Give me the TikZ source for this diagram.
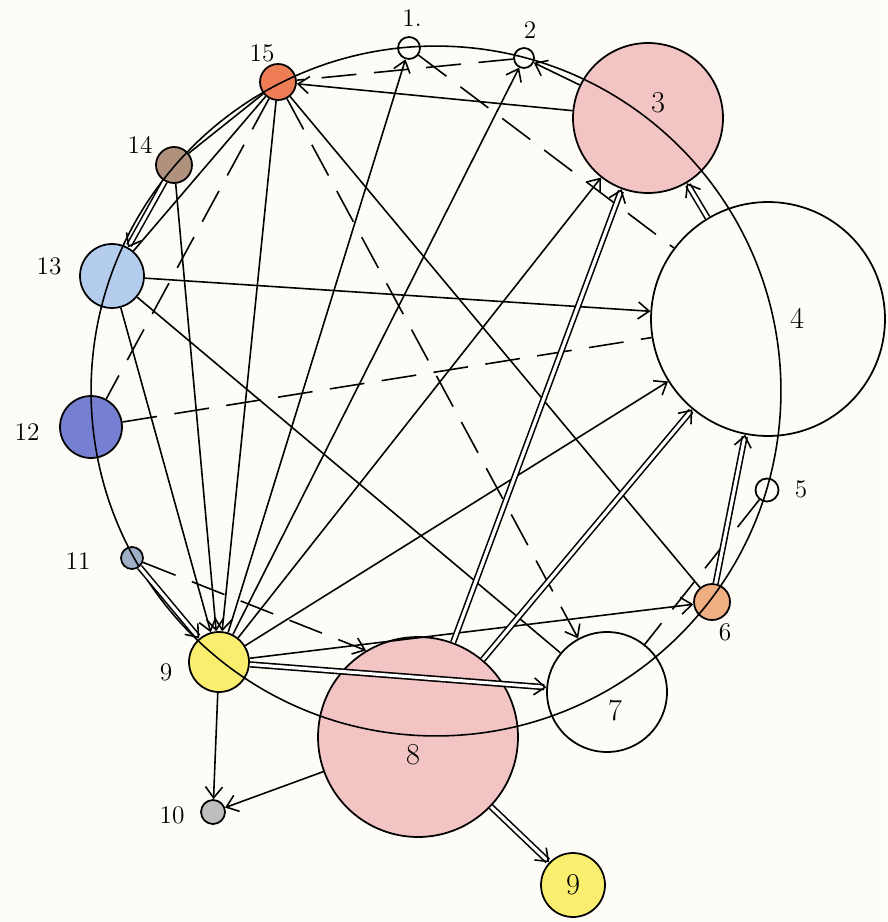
\documentclass[tikz,border=0pt]{standalone}
\usepackage{tikz}
\usetikzlibrary{arrows.meta}
\definecolor{paper}{RGB}{253,252,246}
\definecolor{pk}{RGB}{242,196,196}
\definecolor{yl}{RGB}{250,238,110}
\definecolor{org}{RGB}{240,175,130}
\definecolor{rd}{RGB}{238,125,85}
\definecolor{brn}{RGB}{175,145,125}
\definecolor{lb}{RGB}{180,205,238}
\definecolor{bl}{RGB}{118,128,210}
\definecolor{gb}{RGB}{160,175,200}
\definecolor{gr}{RGB}{190,190,190}

\begin{document}
\begin{tikzpicture}[x=0.02cm,y=-0.02cm,
  nd/.style={circle,draw,line width=1pt,inner sep=0pt},
  lbl/.style={font=\Large},
  big/.style={font=\LARGE},
  ln/.style={line width=0.9pt},
  dsh/.style={ln,dash pattern=on 7mm off 3.5mm},
  dbl/.style={ln,double,double distance=1.8pt},
  >={Straight Barb[length=2.2mm,width=3.4mm]}
]
\fill[paper] (0,0) rectangle (887,922);
\useasboundingbox (0,0) rectangle (887,922);

% circles on the ring
\node[nd,minimum size=0.44cm]          (n1)  at (409,48)  {};
\node[nd,minimum size=0.40cm]          (n2)  at (524,58)  {};
\node[nd,minimum size=3.0cm,fill=pk]   (n3)  at (648,118) {};
\node[nd,minimum size=4.68cm]          (n4)  at (768,319) {};
\node[nd,minimum size=0.46cm]          (n5)  at (767,490) {};
\node[nd,minimum size=0.72cm,fill=org] (n6)  at (712,602) {};
\node[nd,minimum size=2.4cm]           (n7)  at (607,692) {};
\node[nd,minimum size=4.0cm,fill=pk]   (n8)  at (418,737) {};
\node[nd,minimum size=1.2cm,fill=yl]   (n9)  at (219,662) {};
\node[nd,minimum size=0.44cm,fill=gb]  (n11) at (132,558) {};
\node[nd,minimum size=1.24cm,fill=bl]  (n12) at (91,427)  {};
\node[nd,minimum size=1.28cm,fill=lb]  (n13) at (112,276) {};
\node[nd,minimum size=0.72cm,fill=brn] (n14) at (174,165) {};
\node[nd,minimum size=0.72cm,fill=rd]  (n15) at (278,82)  {};
% outside the ring
\node[nd,minimum size=0.48cm,fill=gr]  (n10) at (213,812) {};
\node[nd,minimum size=1.28cm,fill=yl]  (n9b) at (573,885) {};

\draw[ln] (436,391) circle[radius=6.9cm];

% labels
\node[lbl] (l1)  at (412,18)  {1.};
\node[lbl] (l2)  at (530,30)  {2};
\node[big] (l3)  at (658,103) {3};
\node[big] (l4)  at (797,318) {4};
\node[lbl] (l5)  at (801,489) {5};
\node[lbl] (l6)  at (725,632) {6};
\node[big] (l7)  at (615,710) {7};
\node[big] (l8)  at (413,755) {8};
\node[lbl] (l9)  at (166,672) {9};
\node[big] (l9b) at (573,885) {9};
\node[lbl] (l10) at (172,815) {10};
\node[lbl] (l11) at (78,561)  {11};
\node[lbl] (l12) at (27,432)  {12};
\node[lbl] (l13) at (49,266)  {13};
\node[lbl] (l14) at (140,145) {14};
\node[lbl] (l15) at (262,53)  {15};

% plain links
\draw[ln,->] (n3) -- (n15);
\draw[ln,->] (n3) -- (n2);
\draw[ln,->] (n9) -- (n1);
\draw[ln,->] (n9) -- (n2);
\draw[ln,->] (n9) -- (n3);
\draw[ln,->] (n9) -- (n4);
\draw[ln,->] (n9) -- (n6);
\draw[ln,->] (n13) -- (n4);
\draw[ln,->] (n15) -- (n9);
\draw[ln,->] (n14) -- (n9);
\draw[ln,->] (n13) -- (n9);
\draw[ln,->] (n9) -- (n10);
\draw[ln,->] (n8) -- (n10);
\draw[ln] (n15) -- (n14);
\draw[ln] (n15) -- (n13);
\draw[ln] (n15) -- (n6);
\draw[ln] (n13) -- (n7);

% dashed links
\draw[dsh] (n2) -- (n15);
\draw[dsh] (n1) -- (n4);
\draw[dsh] (n15) -- (n12);
\draw[dsh] (n12) -- (n4);
\draw[dsh] (n5) -- (n7);
\draw[dsh,->] (n15) -- (n7);
\draw[dsh,->] (n11) -- (n8.121);

% double links
\draw[dbl,->] (n14) -- (n13);
\draw[dbl,->] (n11) -- (n9);
\draw[dbl,->] (n9) -- (n7);
\draw[dbl,->] (n8) -- (n3);
\draw[dbl,->] (n8) -- (n4);
\draw[dbl,->] (n4) -- (n3);
\draw[dbl,->] (n6) -- (n4);
\draw[dbl,->] (n8) -- (n9b);
\end{tikzpicture}
\end{document}
